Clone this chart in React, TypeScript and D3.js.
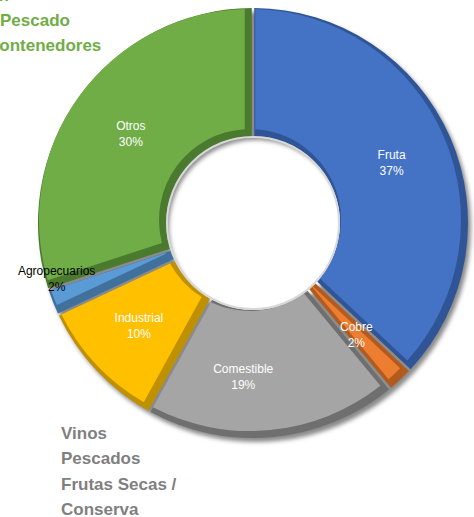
import React from "react";
import * as d3 from "d3";

// slices, clockwise from 12 o'clock
const categories = ["Fruta", "Cobre", "Comestible", "Industrial", "Agropecuarios", "Otros"];
const shares = [37, 2, 19, 10, 2, 30];
const faceColors = ["#4472C4", "#ED7D31", "#A5A5A5", "#FFC000", "#5B9BD5", "#70AD47"];
const edgeColors = ["#2F5597", "#B35A1F", "#6F6F6F", "#BF9000", "#3F719C", "#4A7A2E"];
const labelColors = ["#fff", "#fff", "#fff", "#fff", "#000", "#fff"];
// small manual shifts, like a dragged data label in the original
const labelNudge = [[0, 0], [0, 2], [-24, 4], [-4, 0], [-56, 0], [0, 0]];

const noteTop = ["Salmón", "Pescado", "Contenedores"];
const noteBottom = ["Vinos", "Pescados", "Frutas Secas /", "Conserva"];

const W = 474;
const H = 517;
const cx = 253;
const cy = 223;
const outer = 215;
const inner = 87;
const bevel = 4;
const lift = 3;

export default function App() {
  const pie = d3.pie<number>().sort(null).value(d => d);
  const slices = pie(shares);

  const baseArc = d3.arc<d3.PieArcDatum<number>>()
    .innerRadius(inner)
    .outerRadius(outer)
    .padRadius(200)
    .padAngle(2.5 / 200);

  const faceArc = d3.arc<d3.PieArcDatum<number>>()
    .innerRadius(inner + bevel)
    .outerRadius(outer - bevel)
    .padRadius(200)
    .padAngle((2.5 + bevel * 2) / 200);

  const shadowArc = d3.arc<d3.PieArcDatum<number>>()
    .innerRadius(inner)
    .outerRadius(outer);

  const labelArc = d3.arc<d3.PieArcDatum<number>>()
    .innerRadius((inner + outer) / 2)
    .outerRadius((inner + outer) / 2);

  const font = "Arial, 'Liberation Sans', sans-serif";

  return (
    <svg
      width={W}
      height={H}
      style={{ position: "absolute", left: 0, top: 0, background: "#fff" }}
    >
      <defs>
        <filter id="soft" x="-10%" y="-10%" width="120%" height="120%">
          <feGaussianBlur stdDeviation="2" />
        </filter>
        <clipPath id="ring">
          <path d={`M${-outer},0a${outer},${outer} 0 1,0 ${outer * 2},0a${outer},${outer} 0 1,0 ${-outer * 2},0Z`} />
        </clipPath>
      </defs>

      <g transform={`translate(${cx},${cy})`}>
        {/* drop shadow */}
        <g transform="translate(3,4)" filter="url(#soft)">
          {slices.map((s, i) => (
            <path key={i} d={shadowArc(s) || ""} fill="#8a8a8a" />
          ))}
        </g>

        {/* bevel edge */}
        {slices.map((s, i) => (
          <path key={"e" + i} d={baseArc(s) || ""} fill={edgeColors[i]} />
        ))}

        {/* top face, lifted up-left so only the lower-right edges look deep */}
        <g transform={`translate(${-lift},${-lift})`}>
          {slices.map((s, i) => (
            <path key={"f" + i} d={faceArc(s) || ""} fill={faceColors[i]} />
          ))}
        </g>

        {/* hole rim */}
        <circle r={inner - 1} fill="none" stroke="#d8d8d8" strokeWidth={2} />

        {slices.map((s, i) => {
          const [x, y] = labelArc.centroid(s);
          const lx = x + labelNudge[i][0];
          const ly = y + labelNudge[i][1];
          return (
            <text
              key={"l" + i}
              x={lx}
              y={ly}
              textAnchor="middle"
              fontFamily={font}
              fontSize={12}
              fill={labelColors[i]}
            >
              <tspan x={lx} dy={-4}>{categories[i]}</tspan>
              <tspan x={lx} dy={16}>{shares[i]}%</tspan>
            </text>
          );
        })}
      </g>

      <text fontFamily={font} fontWeight="bold" fontSize={17} fill="#70AD47">
        <tspan x={9} y={1} textAnchor="end">{noteTop[0]}</tspan>
        <tspan x={0} y={26}>{noteTop[1]}</tspan>
        <tspan x={-13} y={51}>{noteTop[2]}</tspan>
      </text>

      <text fontFamily={font} fontWeight="bold" fontSize={17} fill="#7F7F7F">
        {noteBottom.map((t, i) => (
          <tspan key={i} x={61} y={439 + i * 25.3}>{t}</tspan>
        ))}
      </text>
    </svg>
  );
}
